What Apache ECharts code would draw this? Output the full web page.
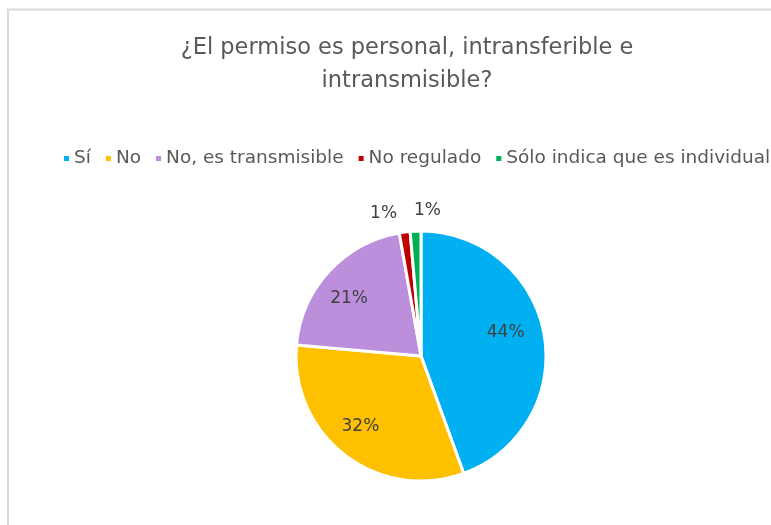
<!DOCTYPE html>
<html>
<head>
<meta charset="utf-8">
<script src="https://cdn.jsdelivr.net/npm/echarts@6/dist/echarts.min.js"></script>
<style>
  html, body { margin: 0; padding: 0; background: #fff; }
  #main { width: 771px; height: 525px; }
</style>
</head>
<body>
<div id="main"></div>
<script>
var categories = ['Sí', 'No', 'No, es transmisible', 'No regulado', 'Sólo indica que es individual'];
var counts = [32, 23, 15, 1, 1];
var colors = ['#00B0F0', '#FFC000', '#BC8FDD', '#C00000', '#00B050'];
var smallSlices = ['No regulado', 'Sólo indica que es individual'];
var labelOffsets = {
    'Sí': [-2, -8],
    'No': [-7, 1],
    'No, es transmisible': [-7, 2],
    'No regulado': [-18, 5],
    'Sólo indica que es individual': [13, 3]
};

var FONT = 'DejaVu Sans';
var total = counts.reduce(function (a, b) { return a + b; }, 0);

function pct(v) {
    return Math.round(v / total * 100) + '%';
}

var pieData = categories.map(function (name, i) {
    return { name: name, value: counts[i], itemStyle: { color: colors[i] } };
});

// big slices: labels sit at 0.7 r, so an invisible pie wider than the real one carries them
var innerLabelData = categories.map(function (name, i) {
    var small = smallSlices.indexOf(name) >= 0;
    return { name: name, value: counts[i], label: { show: !small, offset: labelOffsets[name] } };
});

var outerLabelData = categories.map(function (name, i) {
    var small = smallSlices.indexOf(name) >= 0;
    return { name: name, value: counts[i], label: { show: small, offset: labelOffsets[name] } };
});

var labelPie = {
    type: 'pie',
    center: [421, 356],
    startAngle: 90,
    silent: true,
    legendHoverLink: false,
    itemStyle: { color: 'transparent', borderWidth: 0 },
    emphasis: { disabled: true },
    label: {
        position: 'inside',
        color: '#404040',
        fontFamily: FONT,
        fontSize: 17,
        formatter: function (p) { return pct(p.value); }
    },
    labelLine: { show: false }
};

var chart = echarts.init(document.getElementById('main'));
chart.setOption({
    backgroundColor: '#fff',
    animation: false,
    title: {
        text: '¿El permiso es personal, intransferible e\nintransmisible?',
        left: 402,
        textAlign: 'center',
        top: 27,
        textStyle: {
            color: '#595959',
            fontFamily: FONT,
            fontWeight: 'normal',
            fontSize: 22.5,
            lineHeight: 33
        }
    },
    legend: {
        data: categories,
        orient: 'horizontal',
        left: 57,
        top: 144,
        width: 900,
        icon: 'rect',
        itemWidth: 7,
        itemHeight: 7,
        itemGap: 13,
        textStyle: { color: '#595959', fontFamily: FONT, fontSize: 18.5, padding: [0, 0, 0, -1] }
    },
    graphic: [{
        type: 'polyline',
        shape: { points: [[8, 525], [8, 9.5], [771, 9.5]] },
        style: { stroke: '#D9D9D9', lineWidth: 2, fill: null },
        silent: true
    }],
    series: [
        {
            type: 'pie',
            name: 'permiso',
            center: [421, 356],
            radius: [0, 125],
            startAngle: 90,
            data: pieData,
            itemStyle: { borderColor: '#fff', borderWidth: 3 },
            label: { show: false },
            labelLine: { show: false }
        },
        Object.assign({}, labelPie, { radius: [0, 170], data: innerLabelData }),
        Object.assign({}, labelPie, { radius: [0, 292], data: outerLabelData })
    ]
});
</script>
</body>
</html>
